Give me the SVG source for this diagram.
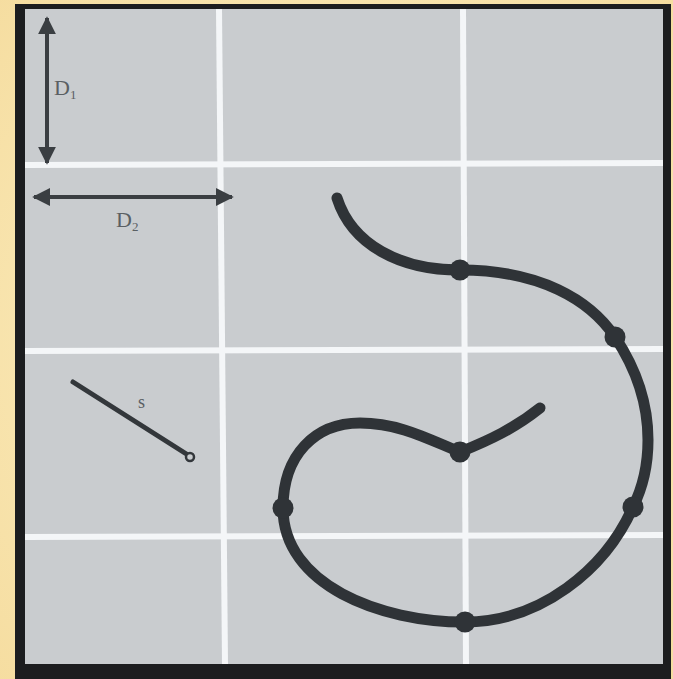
<svg xmlns="http://www.w3.org/2000/svg" width="673" height="679" viewBox="0 0 673 679">
  <defs>
    <radialGradient id="bg" cx="50%" cy="50%" r="75%">
      <stop offset="0" stop-color="#fdf1c8"/>
      <stop offset="1" stop-color="#f5dc9e"/>
    </radialGradient>
    <marker id="ah" viewBox="0 0 10 10" refX="9" refY="5" markerWidth="4.5" markerHeight="4.5" orient="auto-start-reverse" markerUnits="strokeWidth">
      <path d="M0,0 L10,5 L0,10 Z" fill="#3a3e42"/>
    </marker>
    <style>
      .grid { stroke: #f4f6f8; stroke-width: 6; fill: none; }
      .dim { stroke: #3a3e42; stroke-width: 4; fill: none; }
      .lbl { font-family: "Liberation Serif", "DejaVu Serif", serif; fill: #5a5f63; }
      .curve { stroke: #2f3337; stroke-width: 11; fill: none; stroke-linecap: round; stroke-linejoin: round; }
      .node { fill: #2f3337; }
    </style>
  </defs>
  <rect x="0" y="0" width="673" height="679" fill="url(#bg)"/>
  <rect x="15" y="4" width="656" height="675" fill="#1c1d1f"/>
  <rect x="25" y="9" width="638" height="655" fill="#c9cccf"/>

  <g id="grid">
    <line class="grid" x1="219" y1="9" x2="225" y2="664"/>
    <line class="grid" x1="463" y1="9" x2="466" y2="664"/>
    <line class="grid" x1="25" y1="165" x2="663" y2="163"/>
    <line class="grid" x1="25" y1="351" x2="663" y2="349"/>
    <line class="grid" x1="25" y1="537" x2="663" y2="535"/>
  </g>

  <g id="d1">
    <line class="dim" x1="47" y1="18" x2="47" y2="163" marker-start="url(#ah)" marker-end="url(#ah)"/>
    <text class="lbl" x="54" y="95" font-size="22">D<tspan font-size="13" dy="4">1</tspan></text>
  </g>
  <g id="d2">
    <line class="dim" x1="34" y1="197" x2="232" y2="197" marker-start="url(#ah)" marker-end="url(#ah)"/>
    <text class="lbl" x="116" y="227" font-size="22">D<tspan font-size="13" dy="4">2</tspan></text>
  </g>
  <g id="s-segment">
    <line x1="73" y1="382" x2="188" y2="455" stroke="#33373b" stroke-width="5" stroke-linecap="round"/>
    <circle cx="190" cy="457" r="4" fill="#c9cccf" stroke="#33373b" stroke-width="2.5"/>
    <text class="lbl" x="138" y="408" font-size="18">s</text>
  </g>

  <g id="connectors">
    <path class="curve" d="M337,198 C352,245 400,270 460,270 C540,270 590,300 615,337 C635,367 648,400 648,440 C648,465 643,487 633,507 C605,570 540,622 465,622 C380,622 283,585 283,508 C283,455 315,423 360,423 C400,423 430,440 460,452 C490,440 515,428 540,408"/>
  </g>
  <g id="n1"><circle class="node" cx="460" cy="270" r="10.5"/></g>
  <g id="n2"><circle class="node" cx="615" cy="337" r="10.5"/></g>
  <g id="n3"><circle class="node" cx="633" cy="507" r="10.5"/></g>
  <g id="n4"><circle class="node" cx="465" cy="622" r="10.5"/></g>
  <g id="n5"><circle class="node" cx="283" cy="508" r="10.5"/></g>
  <g id="n6"><circle class="node" cx="460" cy="452" r="10.5"/></g>
</svg>
